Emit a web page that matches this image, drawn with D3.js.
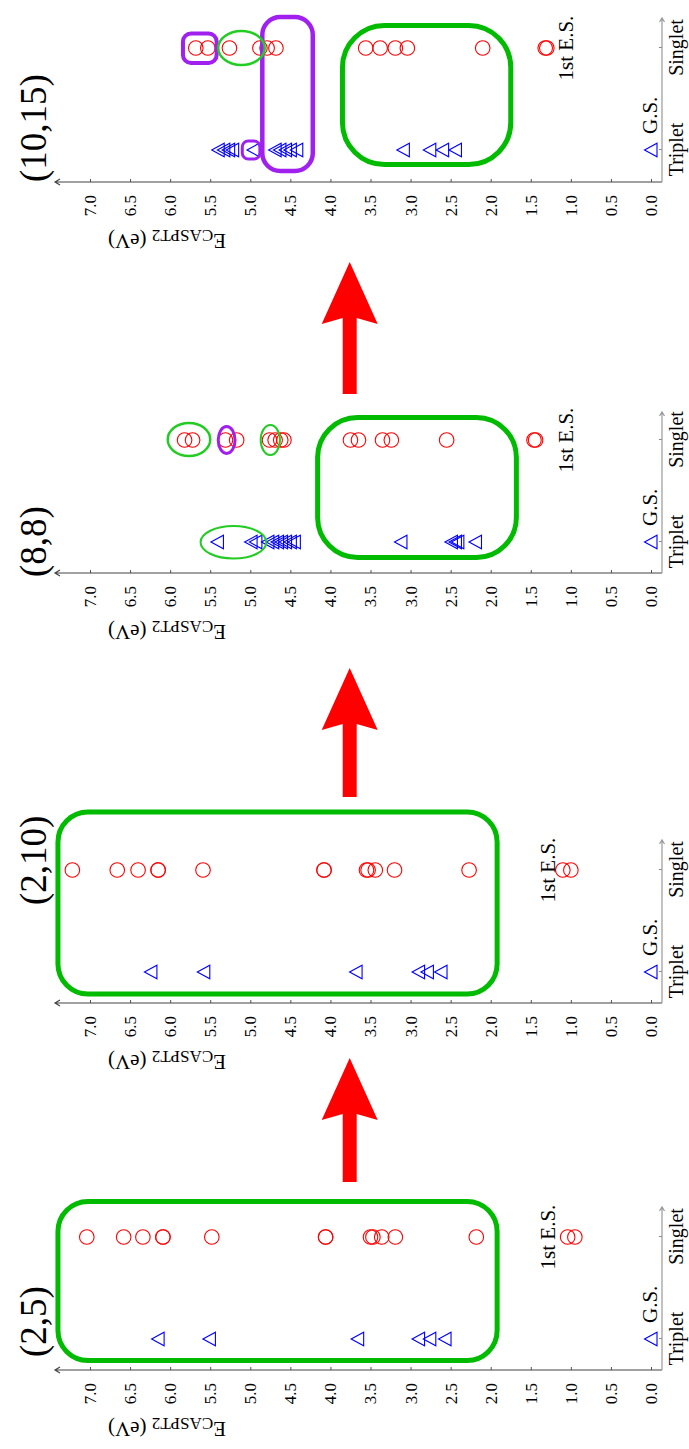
<!DOCTYPE html>
<html>
<head>
<meta charset="utf-8">
<script src="https://cdn.jsdelivr.net/npm/d3@7"></script>
<style>
  body { margin: 0; background: #fff; }
  text { font-family: "Liberation Serif", "DejaVu Serif", serif; }
</style>
</head>
<body>
<script>
// CASPT2 energies (eV), one pair of lists per active space
const panelNames = ["(2,5)", "(2,10)", "(8,8)", "(10,15)"];
const categories = ["Triplet", "Singlet"];
const energyTicks = [0, 0.5, 1, 1.5, 2, 2.5, 3, 3.5, 4, 4.5, 5, 5.5, 6, 6.5, 7];

const singlet25 = [7.04, 6.58, 6.34, 6.09, 6.09, 5.48, 4.06, 4.06, 3.50, 3.47, 3.36, 3.19, 2.18, 1.04, 0.95];
const triplet25 = [6.15, 5.51, 3.66, 2.90, 2.76, 2.57, 0.00];
const singlet210 = [7.22, 6.66, 6.40, 6.15, 6.15, 5.59, 4.08, 4.08, 3.55, 3.53, 3.44, 3.20, 2.27, 1.10, 1.00];
const triplet210 = [6.24, 5.58, 3.68, 2.90, 2.79, 2.62, 0.00];
const singlet88 = [5.82, 5.72, 5.31, 5.17, 4.76, 4.69, 4.62, 4.58, 3.75, 3.65, 3.35, 3.24, 2.55, 1.46, 1.44];
const triplet88 = [5.41, 4.99, 4.93, 4.78, 4.72, 4.66, 4.61, 4.56, 4.50, 4.45, 3.12, 2.49, 2.44, 2.41, 2.19, 0.00];
const singlet1015 = [5.68, 5.53, 5.26, 4.88, 4.79, 4.68, 3.56, 3.38, 3.19, 3.04, 2.10, 1.32, 1.30];
const triplet1015 = [5.40, 5.33, 5.27, 5.22, 4.96, 4.69, 4.63, 4.56, 4.50, 4.42, 3.09, 2.76, 2.60, 2.44, 0.00];

const singlets = [singlet25, singlet210, singlet88, singlet1015];
const triplets = [triplet25, triplet210, triplet88, triplet1015];

// highlight shapes: energy span + offset (px) around a category
const GREEN = "#00bb00", LGREEN = "#22cc22", PURPLE = "#a020f0";
const marks = [
  [{kind: "rect", cat: "Triplet", d0: -21.5, d1: 137.5, e0: 7.40, e1: 1.92, r: 30, c: GREEN, w: 5}],
  [{kind: "rect", cat: "Triplet", d0: -22, d1: 160, e0: 7.40, e1: 1.92, r: 30, c: GREEN, w: 5}],
  [{kind: "rect", cat: "Triplet", d0: -15.5, d1: 124.5, e0: 4.16, e1: 1.68, r: 40, c: GREEN, w: 5},
   {kind: "ell", cat: "Singlet", d0: -16, d1: 17, e0: 6.03, e1: 5.50, c: LGREEN, w: 2.5},
   {kind: "ell", cat: "Singlet", d0: -13.5, d1: 13.5, e0: 5.40, e1: 5.19, c: PURPLE, w: 3},
   {kind: "ell", cat: "Singlet", d0: -15, d1: 15, e0: 4.87, e1: 4.63, c: LGREEN, w: 2},
   {kind: "ell", cat: "Triplet", d0: -16.5, d1: 16, e0: 5.62, e1: 4.80, c: LGREEN, w: 2}],
  [{kind: "rect", cat: "Triplet", d0: -14.5, d1: 124.5, e0: 3.85, e1: 1.75, r: 42, c: GREEN, w: 5},
   {kind: "rect", cat: "Triplet", d0: -21, d1: 133, e0: 4.85, e1: 4.22, r: 18, c: PURPLE, w: 4.5},
   {kind: "rect", cat: "Singlet", d0: -15, d1: 14.5, e0: 5.84, e1: 5.42, r: 8, c: PURPLE, w: 4},
   {kind: "rect", cat: "Triplet", d0: -9, d1: 9, e0: 5.10, e1: 4.88, r: 6, c: PURPLE, w: 3},
   {kind: "ell", cat: "Singlet", d0: -17, d1: 17, e0: 5.40, e1: 4.82, c: LGREEN, w: 2.5}]
];

// figure is drawn landscape (1449 x 689) then turned a quarter left
const W = 1449, H = 689;
const layout = [
  {axis: 79, trip: 110, sing: 212, end: 242, label: 92, esE: 1.2},
  {axis: 446, trip: 477, sing: 579, end: 609, label: 544, esE: 1.2},
  {axis: 876, trip: 907, sing: 1009, end: 1037, label: 872, esE: 0.97},
  {axis: 1267, trip: 1299, sing: 1401, end: 1431, label: 1267, esE: 0.97}
];
const arrows = [{tail: 267, tip: 391}, {tail: 652, tip: 781}, {tail: 1055, tip: 1187}];
const AXIS_Y = 662;

const svg = d3.select("body").append("svg")
  .attr("width", H)
  .attr("height", W);

const fig = svg.append("g")
  .attr("transform", `translate(0,${W}) rotate(-90)`);

const y = d3.scaleLinear().domain([0, 7]).range([651, 90]);

const triPath = "M0,-6.5L-6.8,6L6.8,6Z";

panelNames.forEach((name, i) => {
  const L = layout[i];
  const g = fig.append("g");
  const x = d3.scalePoint().domain(categories).range([L.trip, L.sing]);

  // energy axis
  const yAxis = d3.axisLeft(y)
    .tickValues(energyTicks)
    .tickFormat(d3.format(".1f"))
    .tickSizeInner(-3)
    .tickSizeOuter(0)
    .tickPadding(13);
  const ya = g.append("g")
    .attr("transform", `translate(${L.axis},0)`)
    .call(yAxis);
  ya.select(".domain").remove();
  ya.attr("font-family", null).attr("font-size", 17);
  ya.selectAll(".tick line").attr("stroke", "#555");

  g.append("path")
    .attr("d", `M${L.axis},${AXIS_Y}V55M${L.axis - 3},60L${L.axis},55L${L.axis + 3},60`)
    .attr("fill", "none")
    .attr("stroke", "#444")
    .attr("stroke-width", 1.2);

  // category axis
  const xAxis = d3.axisBottom(x).tickSizeInner(-3).tickSizeOuter(0).tickPadding(7);
  const xa = g.append("g")
    .attr("transform", `translate(0,${AXIS_Y})`)
    .call(xAxis);
  xa.select(".domain").remove();
  xa.attr("font-family", null).attr("font-size", 20);
  xa.selectAll(".tick line").attr("stroke", "#888");

  g.append("path")
    .attr("d", `M${L.axis},${AXIS_Y}H${L.end}M${L.end - 4},${AXIS_Y - 2.5}L${L.end},${AXIS_Y}L${L.end - 4},${AXIS_Y + 2.5}`)
    .attr("fill", "none")
    .attr("stroke", "#999")
    .attr("stroke-width", 1.2);

  // y label
  const yl = g.append("text")
    .attr("transform", `translate(${L.axis - 52},167) rotate(-90)`)
    .attr("text-anchor", "middle")
    .attr("font-size", 21);
  yl.append("tspan").text("E");
  yl.append("tspan").attr("font-size", 17).attr("dy", 4).text("CASPT2");
  yl.append("tspan").attr("dy", -4).text(" (eV)");

  // states
  g.selectAll("circle.s")
    .data(singlets[i])
    .join("circle")
    .attr("class", "s")
    .attr("cx", x("Singlet"))
    .attr("cy", d => y(d))
    .attr("r", 7.3)
    .attr("fill", "none")
    .attr("stroke", "#ff0000")
    .attr("stroke-width", 1.1);

  g.selectAll("path.t")
    .data(triplets[i])
    .join("path")
    .attr("class", "t")
    .attr("d", triPath)
    .attr("transform", d => `translate(${x("Triplet")},${y(d)})`)
    .attr("fill", "none")
    .attr("stroke", "#0000ff")
    .attr("stroke-width", 1.1);

  // highlights
  marks[i].forEach(m => {
    const cx = x(m.cat);
    const x0 = cx + m.d0, x1 = cx + m.d1, y0 = y(m.e0), y1 = y(m.e1);
    if (m.kind === "rect") {
      g.append("rect")
        .attr("x", x0).attr("y", y0)
        .attr("width", x1 - x0).attr("height", y1 - y0)
        .attr("rx", m.r).attr("ry", m.r)
        .attr("fill", "none")
        .attr("stroke", m.c)
        .attr("stroke-width", m.w);
    } else {
      g.append("ellipse")
        .attr("cx", (x0 + x1) / 2).attr("cy", (y0 + y1) / 2)
        .attr("rx", (x1 - x0) / 2).attr("ry", (y1 - y0) / 2)
        .attr("fill", "none")
        .attr("stroke", m.c)
        .attr("stroke-width", m.w);
    }
  });

  // state labels
  g.append("text")
    .attr("x", x("Triplet") + 16)
    .attr("y", y(0) + 6)
    .attr("font-size", 21)
    .text("G.S.");

  g.append("text")
    .attr("x", x("Singlet"))
    .attr("y", y(L.esE))
    .attr("text-anchor", "middle")
    .attr("font-size", 21)
    .text("1st E.S.");

  // panel title
  g.append("text")
    .attr("x", L.label)
    .attr("y", 46)
    .attr("font-size", 37)
    .text(name);
});

// red arrows between the panels
const AY = 349.7;
fig.selectAll("path.arrow")
  .data(arrows)
  .join("path")
  .attr("class", "arrow")
  .attr("d", a => {
    const hb = a.tip - 62;
    return `M${a.tail},${AY - 7}H${hb + 6}L${hb},${AY - 28}L${a.tip},${AY}L${hb},${AY + 28}L${hb + 6},${AY + 7}H${a.tail}Z`;
  })
  .attr("fill", "#ff0000");
</script>
</body>
</html>
